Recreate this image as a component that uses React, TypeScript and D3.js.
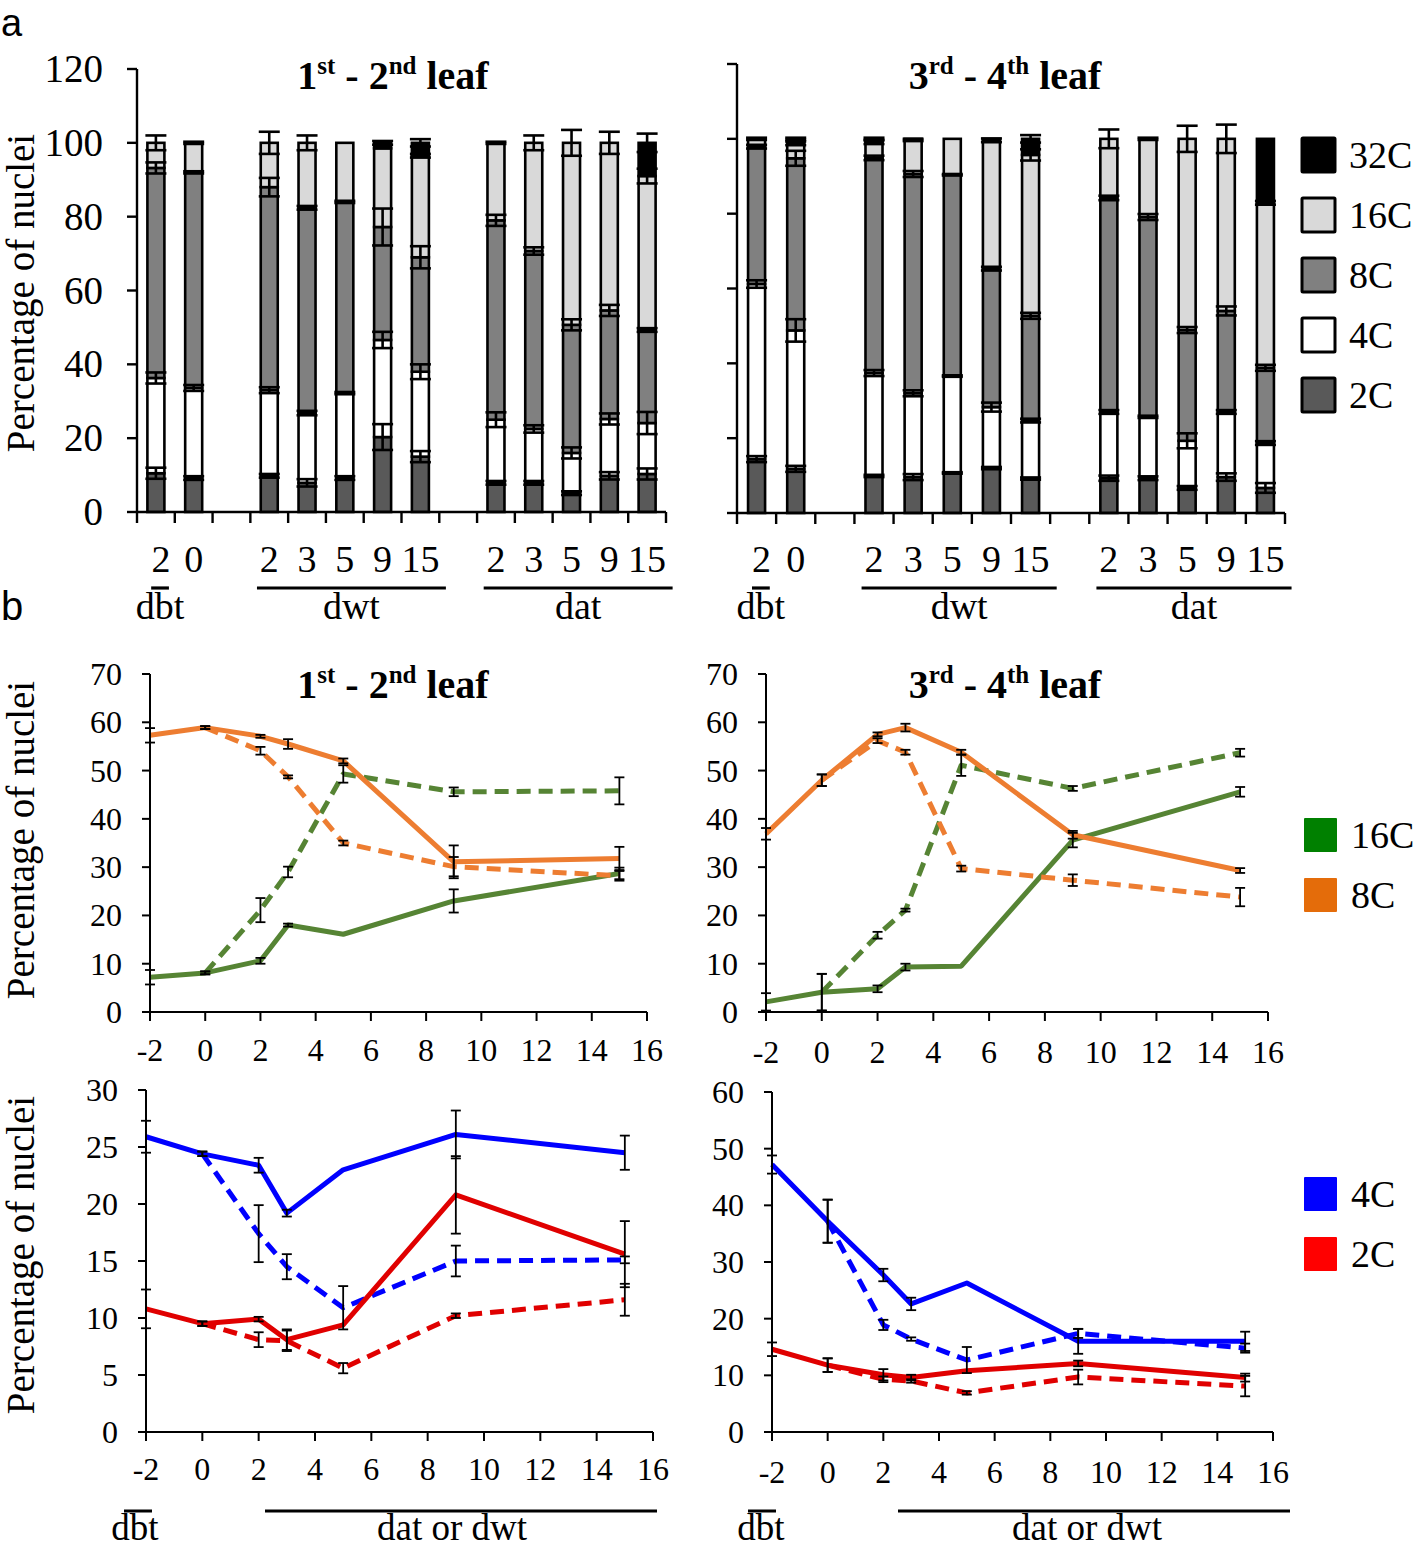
import React from 'react';
import * as d3 from 'd3';

// ---------- Panel a data (stacked bars, % nuclei) ----------
const slotLabels = ["2", "0", "", "2", "3", "5", "9", "15", "", "2", "3", "5", "9", "15"];
const ploidyNames = ["2C", "4C", "8C", "16C", "32C"];
const barFills = ["#595959", "#ffffff", "#808080", "#d9d9d9", "#000000"];

const L_2C = [10.5, 9.2, null, 9.8, 7.9, 9.2, 20.3, 15, null, 7.9, 7.9, 5.1, 9.8, 10.3];
const L_4C = [25.8, 24.4, null, 23.2, 18.9, 23.0, 26.3, 23, null, 17.1, 14.6, 10.9, 15.4, 13.8];
const L_8C = [56.9, 58.4, null, 55.0, 55.6, 51.8, 30.6, 31, null, 54.0, 48.2, 34.7, 29.4, 25.2];
const L_16C = [6.8, 8.0, null, 12.0, 17.6, 16.0, 21.3, 27.5, null, 21.0, 29.3, 49.3, 45.4, 41.7];
const L_32C = [0, 0, null, 0, 0, 0, 1.5, 3.5, null, 0, 0, 0, 0, 9.0];
const L_e2C = [1.5, 0.5, null, 0.5, 1.0, 0.5, 3.5, 1.5, null, 0.5, 0.5, 0.5, 1.0, 1.5];
const L_e4C = [1.5, 0.8, null, 0.8, 0.6, 0.3, 2.2, 2.0, null, 2.0, 1.0, 1.5, 1.5, 3.0];
const L_e8C = [1.5, 0.3, null, 2.5, 0.5, 0.3, 5.0, 3.0, null, 1.5, 1.0, 1.5, 1.5, 0.5];
const L_e16C = [2.0, 0.3, null, 3.0, 2.0, 0, 0, 0.5, null, 0.3, 2.0, 3.5, 3.0, 2.0];
const L_e32C = [0, 0, null, 0, 0, 0, 0.5, 1.0, null, 0, 0, 0, 0, 2.5];

const R_2C = [14.4, 11.8, null, 9.9, 9.6, 10.7, 12.0, 9.2, null, 9.3, 9.3, 6.7, 9.6, 6.7];
const R_4C = [46.8, 37.0, null, 27.5, 22.4, 25.9, 16.3, 15.5, null, 17.7, 16.4, 12.6, 17.4, 12.0];
const R_8C = [36.7, 46.0, null, 57.5, 58.6, 53.8, 37.0, 28.0, null, 57.2, 53.4, 29.6, 27.0, 20.1];
const R_16C = [2.1, 4.0, null, 4.2, 9.1, 9.6, 34.3, 43.0, null, 15.8, 20.9, 51.1, 46.0, 44.1];
const R_32C = [0, 1.2, null, 0.9, 0.3, 0, 0.4, 4.3, null, 0, 0, 0, 0, 17.1];
const R_e2C = [0.8, 0.8, null, 0.3, 0.8, 0.2, 0.3, 0.3, null, 0.7, 0.5, 0.5, 1.0, 1.3];
const R_e4C = [1.0, 3.0, null, 0.8, 0.8, 0.2, 1.2, 0.5, null, 0.5, 0.3, 2.0, 0.5, 0.5];
const R_e8C = [0.5, 2.0, null, 0.6, 0.8, 0.2, 0.5, 0.8, null, 0.6, 0.8, 0.8, 1.2, 0.8];
const R_e16C = [0.3, 0.5, null, 0.5, 0.3, 0, 0.5, 1.5, null, 2.5, 0.3, 3.5, 3.8, 0.5];
const R_e32C = [0, 0.3, null, 0.3, 0, 0, 0, 1.0, null, 0, 0, 0, 0, 0];

const barTicks = [0, 20, 40, 60, 80, 100, 120];

// ---------- Panel b data (lines) ----------
const daysSolid = [-2, 0, 2, 3, 5, 9, 15];
const daysDashed = [0, 2, 3, 5, 9, 15];
const dayTicks = [-2, 0, 2, 4, 6, 8, 10, 12, 14, 16];

// 1st-2nd leaf, 16C / 8C
const A16_solid = [7.2, 8.1, 10.6, 18.0, 16.1, 23.0, 28.7];
const A16_solidErr = [1.5, 0.3, 0.6, 0.3, 0, 2.4, 1.2];
const A16_dash = [8.1, 21.1, 29.0, 49.3, 45.6, 45.8];
const A16_dashErr = [0.3, 2.5, 1.1, 1.8, 0.9, 2.8];
const A8_solid = [57.3, 58.9, 57.1, 55.5, 52.0, 31.1, 31.8];
const A8_solidErr = [1.5, 0.3, 0.3, 1.0, 0.5, 3.4, 2.4];
const A8_dash = [58.9, 54.1, 48.7, 35.0, 30.1, 28.2];
const A8_dashErr = [0.3, 0.8, 0.3, 0.5, 2.0, 1.0];

// 3rd-4th leaf, 16C / 8C
const B16_solid = [2.1, 4.1, 4.8, 9.3, 9.5, 35.6, 45.6];
const B16_solidErr = [1.8, 3.8, 0.7, 0.7, 0, 1.5, 1.0];
const B16_dash = [4.1, 15.9, 21.1, 51.1, 46.3, 53.7];
const B16_dashErr = [3.8, 0.7, 0.3, 2.2, 0.5, 0.8];
const B8_solid = [36.9, 48.0, 57.5, 58.9, 53.8, 36.7, 29.3];
const B8_solidErr = [1.2, 1.2, 0.4, 0.8, 0.5, 0.8, 0.5];
const B8_dash = [48.0, 56.2, 53.8, 29.7, 27.3, 23.8];
const B8_dashErr = [1.2, 0.5, 0.5, 0.6, 1.2, 1.9];

// 1st-2nd leaf, 4C / 2C
const C4_solid = [25.9, 24.4, 23.4, 19.2, 23.0, 26.1, 24.5];
const C4_solidErr = [1.4, 0.2, 0.65, 0.3, 0, 2.1, 1.5];
const C4_dash = [24.4, 17.4, 14.5, 10.9, 15.0, 15.1];
const C4_dashErr = [0.2, 2.5, 1.1, 1.9, 1.35, 0.3];
const C2_solid = [10.8, 9.5, 9.9, 8.1, 9.4, 20.8, 15.6];
const C2_solidErr = [1.7, 0.2, 0.2, 0.9, 0, 3.4, 2.9];
const C2_dash = [9.5, 8.1, 8.0, 5.6, 10.2, 11.6];
const C2_dashErr = [0.2, 0.65, 0.9, 0.45, 0.2, 1.4];

// 3rd-4th leaf, 4C / 2C
const D4_solid = [47.2, 37.2, 27.7, 22.6, 26.3, 16.0, 16.0];
const D4_solidErr = [1.6, 3.8, 1.1, 1.1, 0, 2.2, 1.7];
const D4_dash = [37.2, 18.9, 16.4, 12.7, 17.4, 14.8];
const D4_dashErr = [3.8, 0.9, 0.3, 2.3, 0.8, 0.8];
const D2_solid = [14.6, 11.8, 10.1, 9.6, 10.8, 12.1, 9.6];
const D2_solidErr = [1.2, 1.2, 1.0, 0.5, 0, 0.5, 0.7];
const D2_dash = [11.8, 9.3, 9.0, 6.9, 9.7, 8.1];
const D2_dashErr = [1.2, 0.5, 0.3, 0.3, 1.3, 1.8];

const GREEN = "#568434";
const ORANGE = "#ED7D31";
const BLUE = "#0000FF";
const RED = "#E00000";

const SERIF = "'Liberation Serif', 'Times New Roman', serif";
const SANS = "'Liberation Sans', Arial, sans-serif";

type Box = { x0: number; x1: number; y0: number; yTop: number };

function Title({ cx, y, a, sa, b, sb }: { cx: number; y: number; a: string; sa: string; b: string; sb: string }) {
  return (
    <text x={cx} y={y} textAnchor="middle" fontFamily={SERIF} fontWeight="bold" fontSize={40}>
      {a}
      <tspan fontSize={25} dy={-15}>{sa}</tspan>
      <tspan dy={15}>{" - " + b}</tspan>
      <tspan fontSize={25} dy={-15}>{sb}</tspan>
      <tspan dy={15}>{" leaf"}</tspan>
    </text>
  );
}

function BarPanel({ box, series, errs, pad, showYLabels, labelY }: {
  box: Box; series: (number | null)[][]; errs: (number | null)[][]; pad: number; showYLabels: boolean; labelY: number;
}) {
  const n = slotLabels.length;
  const x = d3.scaleBand<number>().domain(d3.range(n)).range([box.x0, box.x1]).paddingInner(pad).paddingOuter(pad / 2);
  const y = d3.scaleLinear().domain([0, 120]).range([box.y0, box.yTop]);
  const step = x.step();
  const bw = x.bandwidth();
  const segs: JSX.Element[] = [];
  const errEls: JSX.Element[] = [];
  for (let i = 0; i < n; i++) {
    if (series[0][i] === null) continue;
    let cum = 0;
    const cx = (x(i) as number) + bw / 2;
    series.forEach((s, k) => {
      const v = s[i] as number;
      const lo = cum;
      cum += v;
      if (v > 0) {
        segs.push(
          <rect key={`s${i}-${k}`} x={x(i)} width={bw} y={y(cum)} height={y(lo) - y(cum)}
            fill={barFills[k]} stroke="#000" strokeWidth={2.6} />
        );
      }
      const e = errs[k][i] as number;
      if (e > 0 && v > 0) {
        const t = y(cum + e), b = y(cum - e);
        errEls.push(
          <g key={`e${i}-${k}`} stroke="#000" strokeWidth={2.6}>
            <line x1={cx} x2={cx} y1={t} y2={b} />
            <line x1={cx - bw / 2 - 2} x2={cx + bw / 2 + 2} y1={t} y2={t} />
            <line x1={cx - bw / 2 - 2} x2={cx + bw / 2 + 2} y1={b} y2={b} />
          </g>
        );
      }
    });
  }
  return (
    <g>
      {segs}
      {errEls}
      <line x1={box.x0} x2={box.x0} y1={box.y0 + 1} y2={y(120)} stroke="#000" strokeWidth={2.4} />
      <line x1={box.x0} x2={box.x1} y1={box.y0} y2={box.y0} stroke="#000" strokeWidth={2.4} />
      {barTicks.map(t => (
        <g key={t}>
          <line x1={box.x0 - 10} x2={box.x0} y1={y(t)} y2={y(t)} stroke="#000" strokeWidth={2.4} />
          {showYLabels && (
            <text x={box.x0 - 34} y={y(t) + 13} textAnchor="end" fontFamily={SERIF} fontSize={39}>{t}</text>
          )}
        </g>
      ))}
      {d3.range(n + 1).map(i => (
        <line key={i} x1={box.x0 + i * step} x2={box.x0 + i * step} y1={box.y0} y2={box.y0 + 11} stroke="#000" strokeWidth={2.4} />
      ))}
      {slotLabels.map((l, i) => l ? (
        <text key={i} x={(x(i) as number) + bw / 2 + (i === 0 ? 5 : 0)} y={labelY} textAnchor="middle" fontFamily={SERIF} fontSize={38}>{l}</text>
      ) : null)}
    </g>
  );
}

function GroupLabels({ box, pad, y }: { box: Box; pad: number; y: number }) {
  const n = slotLabels.length;
  const x = d3.scaleBand<number>().domain(d3.range(n)).range([box.x0, box.x1]).paddingInner(pad).paddingOuter(pad / 2);
  const step = x.step();
  const groups = [
    { name: "dbt", a: 0, b: 0, ext: 0 },
    { name: "dwt", a: 3, b: 7, ext: 1 },
    { name: "dat", a: 9, b: 13, ext: 1 },
  ];
  return (
    <g>
      {groups.map(g => {
        const xa = (x(g.a) as number) + step * 0.05 - (g.ext ? step * 0.15 : -step * 0.05);
        const xb = g.ext ? (x(g.b) as number) + x.bandwidth() + step * 0.45 : (x(g.b) as number) + x.bandwidth() + step * 0.12;
        const cx = (xa + xb) / 2;
        return (
          <g key={g.name}>
            <line x1={xa} x2={xb} y1={y} y2={y} stroke="#000" strokeWidth={3.2} />
            <text x={cx} y={y + 31} textAnchor="middle" fontFamily={SERIF} fontSize={38}>{g.name}</text>
          </g>
        );
      })}
    </g>
  );
}

type LS = { xs: number[]; ys: number[]; err: number[]; color: string; dashed: boolean };

function LinePanel({ box, yMax, yStep, lines, labelY }: { box: Box; yMax: number; yStep: number; lines: LS[]; labelY: number }) {
  const x = d3.scaleLinear().domain([-2, 16]).range([box.x0, box.x1]);
  const y = d3.scaleLinear().domain([0, yMax]).range([box.y0, box.yTop]);
  const line = d3.line<[number, number]>().x(d => x(d[0])).y(d => y(d[1]));
  const yTicks = d3.range(0, yMax + 0.001, yStep);
  return (
    <g>
      {lines.map((l, i) => (
        <path key={i} d={line(l.xs.map((v, j) => [v, l.ys[j]] as [number, number])) || ""}
          fill="none" stroke={l.color} strokeWidth={5} strokeDasharray={l.dashed ? "14 8" : undefined} strokeLinejoin="round" />
      ))}
      {lines.map((l, i) => (
        <g key={"e" + i} stroke="#000" strokeWidth={1.8}>
          {l.xs.map((v, j) => {
            const e = l.err[j];
            if (!e) return null;
            const cx = x(v), t = y(l.ys[j] + e), b = y(Math.max(0, l.ys[j] - e));
            return (
              <g key={j}>
                <line x1={cx} x2={cx} y1={t} y2={b} />
                <line x1={cx - 5} x2={cx + 5} y1={t} y2={t} />
                <line x1={cx - 5} x2={cx + 5} y1={b} y2={b} />
              </g>
            );
          })}
        </g>
      ))}
      <line x1={box.x0} x2={box.x0} y1={box.y0 + 1} y2={box.yTop} stroke="#000" strokeWidth={2} />
      <line x1={box.x0} x2={box.x1} y1={box.y0} y2={box.y0} stroke="#000" strokeWidth={2} />
      {yTicks.map(t => (
        <g key={t}>
          <line x1={box.x0 - 8} x2={box.x0} y1={y(t)} y2={y(t)} stroke="#000" strokeWidth={2} />
          <text x={box.x0 - 28} y={y(t) + 11} textAnchor="end" fontFamily={SERIF} fontSize={32}>{t}</text>
        </g>
      ))}
      {dayTicks.map(t => (
        <g key={t}>
          <line x1={x(t)} x2={x(t)} y1={box.y0} y2={box.y0 + 9} stroke="#000" strokeWidth={2} />
          <text x={x(t)} y={labelY} textAnchor="middle" fontFamily={SERIF} fontSize={32}>{t}</text>
        </g>
      ))}
    </g>
  );
}

function Legend({ x, y, gap, items }: { x: number; y: number; gap: number; items: { label: string; fill: string; stroke?: boolean }[] }) {
  return (
    <g>
      {items.map((it, i) => (
        <g key={it.label}>
          <rect x={x} y={y + i * gap} width={33} height={34} fill={it.fill}
            stroke={it.stroke ? "#000" : "none"} strokeWidth={3} rx={1} />
          <text x={x + 47} y={y + i * gap + 30} fontFamily={SERIF} fontSize={38}>{it.label}</text>
        </g>
      ))}
    </g>
  );
}

function mk(xsS: number[], ysS: number[], eS: number[], xsD: number[], ysD: number[], eD: number[], color: string): LS[] {
  return [
    { xs: xsS, ys: ysS, err: eS, color, dashed: false },
    { xs: xsD, ys: ysD, err: eD, color, dashed: true },
  ];
}

export default function App() {
  const leftBox: Box = { x0: 137, x1: 666, y0: 512, yTop: 69 };
  const rightBox: Box = { x0: 737, x1: 1285, y0: 513, yTop: 64 };
  const tl: Box = { x0: 150, x1: 647, y0: 1012, yTop: 674 };
  const tr: Box = { x0: 766, x1: 1268, y0: 1012, yTop: 674 };
  const bl: Box = { x0: 146, x1: 653, y0: 1432, yTop: 1090 };
  const br: Box = { x0: 772, x1: 1273, y0: 1432, yTop: 1092 };

  const L = [L_2C, L_4C, L_8C, L_16C, L_32C];
  const Le = [L_e2C, L_e4C, L_e8C, L_e16C, L_e32C];
  const R = [R_2C, R_4C, R_8C, R_16C, R_32C];
  const Re = [R_e2C, R_e4C, R_e8C, R_e16C, R_e32C];

  const tlLines = [
    ...mk(daysSolid, A16_solid, A16_solidErr, daysDashed, A16_dash, A16_dashErr, GREEN),
    ...mk(daysSolid, A8_solid, A8_solidErr, daysDashed, A8_dash, A8_dashErr, ORANGE),
  ];
  const trLines = [
    ...mk(daysSolid, B16_solid, B16_solidErr, daysDashed, B16_dash, B16_dashErr, GREEN),
    ...mk(daysSolid, B8_solid, B8_solidErr, daysDashed, B8_dash, B8_dashErr, ORANGE),
  ];
  const blLines = [
    ...mk(daysSolid, C4_solid, C4_solidErr, daysDashed, C4_dash, C4_dashErr, BLUE),
    ...mk(daysSolid, C2_solid, C2_solidErr, daysDashed, C2_dash, C2_dashErr, RED),
  ];
  const brLines = [
    ...mk(daysSolid, D4_solid, D4_solidErr, daysDashed, D4_dash, D4_dashErr, BLUE),
    ...mk(daysSolid, D2_solid, D2_solidErr, daysDashed, D2_dash, D2_dashErr, RED),
  ];

  const barLegend = [4, 3, 2, 1, 0].map(k => ({ label: ploidyNames[k], fill: barFills[k], stroke: true }));

  return (
    <svg width={1416} height={1547} style={{ position: "absolute", left: 0, top: 0, background: "#fff" }}>
      <rect x={0} y={0} width={1416} height={1547} fill="#fff" />
      <text x={1} y={36} fontFamily={SANS} fontSize={38}>a</text>
      <text x={1} y={620} fontFamily={SANS} fontSize={40}>b</text>

      <text transform="translate(34,293) rotate(-90)" textAnchor="middle" fontFamily={SERIF} fontSize={39}>Percentage of nuclei</text>
      <text transform="translate(34,840) rotate(-90)" textAnchor="middle" fontFamily={SERIF} fontSize={39}>Percentage of nuclei</text>
      <text transform="translate(34,1255) rotate(-90)" textAnchor="middle" fontFamily={SERIF} fontSize={39}>Percentage of nuclei</text>

      <Title cx={393} y={89} a="1" sa="st" b="2" sb="nd" />
      <Title cx={1005} y={89} a="3" sa="rd" b="4" sb="th" />

      <BarPanel box={leftBox} series={L} errs={Le} pad={0.55} showYLabels={true} labelY={572} />
      <BarPanel box={rightBox} series={R} errs={Re} pad={0.565} showYLabels={false} labelY={572} />
      <GroupLabels box={leftBox} pad={0.55} y={588} />
      <GroupLabels box={rightBox} pad={0.565} y={588} />
      <Legend x={1302} y={138} gap={60} items={barLegend} />

      <Title cx={393} y={698} a="1" sa="st" b="2" sb="nd" />
      <Title cx={1005} y={698} a="3" sa="rd" b="4" sb="th" />
      <LinePanel box={tl} yMax={70} yStep={10} lines={tlLines} labelY={1061} />
      <LinePanel box={tr} yMax={70} yStep={10} lines={trLines} labelY={1063} />
      <LinePanel box={bl} yMax={30} yStep={5} lines={blLines} labelY={1480} />
      <LinePanel box={br} yMax={60} yStep={10} lines={brLines} labelY={1483} />

      <Legend x={1304} y={818} gap={60} items={[{ label: "16C", fill: "#008000" }, { label: "8C", fill: "#E46C0A" }]} />
      <Legend x={1304} y={1177} gap={60} items={[{ label: "4C", fill: "#0000FF" }, { label: "2C", fill: "#FF0000" }]} />

      <line x1={124} x2={152} y1={1511} y2={1511} stroke="#000" strokeWidth={3} />
      <text x={135} y={1540} textAnchor="middle" fontFamily={SERIF} fontSize={37}>dbt</text>
      <line x1={265} x2={657} y1={1511} y2={1511} stroke="#000" strokeWidth={3} />
      <text x={452} y={1540} textAnchor="middle" fontFamily={SERIF} fontSize={37}>dat or dwt</text>
      <line x1={748} x2={776} y1={1511} y2={1511} stroke="#000" strokeWidth={3} />
      <text x={761} y={1540} textAnchor="middle" fontFamily={SERIF} fontSize={37}>dbt</text>
      <line x1={898} x2={1290} y1={1511} y2={1511} stroke="#000" strokeWidth={3} />
      <text x={1087} y={1540} textAnchor="middle" fontFamily={SERIF} fontSize={37}>dat or dwt</text>
    </svg>
  );
}
